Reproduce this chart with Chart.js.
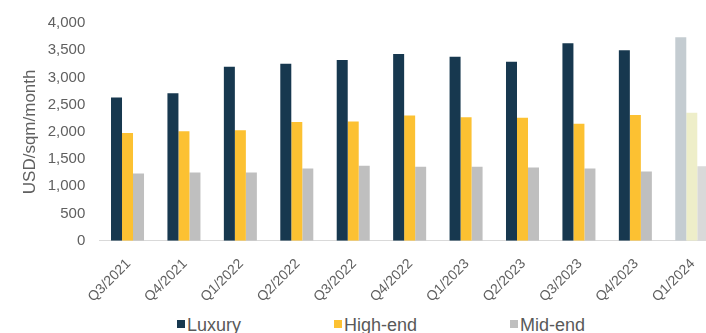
<!DOCTYPE html>
<html>
<head>
<meta charset="utf-8">
<script src="https://cdn.jsdelivr.net/npm/chart.js@4/dist/chart.umd.min.js"></script>
<style>
    html, body { margin: 0; padding: 0; background: #fff; overflow: hidden; width: 706px; height: 333px; }
    #wrap { position: absolute; left: 0; top: 0; width: 722px; height: 312px; }
    #legend { position: absolute; left: 177px; top: 313px; display: flex; gap: 93px; white-space: nowrap;
              font-family: "Liberation Sans", Arial, sans-serif; font-size: 18px; color: #595959; line-height: 24px; }
    #legend span.box { display: inline-block; width: 8px; height: 8px; margin-right: 2px; vertical-align: 3px; }
</style>
</head>
<body>
<div id="wrap"><canvas id="rentChart"></canvas></div>
<div id="legend"></div>
<script>
// Quarters on the x axis
const quarters = ["Q3/2021", "Q4/2021", "Q1/2022", "Q2/2022", "Q3/2022", "Q4/2022",
                  "Q1/2023", "Q2/2023", "Q3/2023", "Q4/2023", "Q1/2024"];

// Rent per segment, USD/sqm/month
const luxury  = [2630, 2710, 3195, 3250, 3320, 3430, 3380, 3290, 3630, 3500, 3740];
const highEnd = [1980, 2010, 2030, 2180, 2190, 2300, 2270, 2260, 2150, 2310, 2350];
const midEnd  = [1235, 1255, 1255, 1325, 1375, 1360, 1360, 1345, 1325, 1270, 1370];

const seriesNames = ["Luxury", "High-end", "Mid-end"];
const yTicks = [0, 500, 1000, 1500, 2000, 2500, 3000, 3500, 4000];

// Normal colour, then the faded one used for the last (forecast) quarter
const colours = [["#17384f", "#c4ccd1"], ["#fcc132", "#eeeec9"], ["#bfbfbf", "#d9d9d9"]];
const textGrey = "#606060";

function barColours(pair) {
    return quarters.map((q, i) => i === quarters.length - 1 ? pair[1] : pair[0]);
}

const ctx = document.getElementById('rentChart').getContext('2d');
new Chart(ctx, {
    type: 'bar',
    data: {
        labels: quarters,
        datasets: [luxury, highEnd, midEnd].map((values, i) => ({
            label: seriesNames[i],
            data: values,
            backgroundColor: barColours(colours[i]),
            borderWidth: 0,
            categoryPercentage: 0.585,
            barPercentage: 1
        }))
    },
    options: {
        responsive: true,
        maintainAspectRatio: false,
        animation: false,
        layout: { padding: { top: 17, left: 0, right: 2, bottom: 0 } },
        plugins: {
            legend: { display: false },
            tooltip: { enabled: false }
        },
        scales: {
            x: {
                grid: { display: false, drawTicks: false },
                border: { display: true, color: '#d9d9d9', width: 1 },
                ticks: {
                    color: textGrey,
                    font: { family: 'Liberation Sans', size: 14 },
                    minRotation: 45,
                    maxRotation: 45,
                    padding: 15,
                    labelOffset: 1
                },
                afterFit: scale => { scale.height = 312 - 240.7; }
            },
            y: {
                min: 0,
                max: 4000,
                grid: { display: false, drawTicks: false },
                border: { display: false },
                afterBuildTicks: scale => { scale.ticks = yTicks.map(v => ({ value: v })); },
                ticks: {
                    color: textGrey,
                    font: { family: 'Liberation Sans', size: 15 },
                    padding: 14,
                    callback: v => v.toLocaleString('en-US')
                },
                title: {
                    display: true,
                    text: 'USD/sqm/month',
                    color: textGrey,
                    font: { family: 'Liberation Sans', size: 17 },
                    padding: { top: 20, bottom: 0 }
                },
                afterFit: scale => { scale.width = 99.3; }
            }
        }
    }
});

// Legend below the chart, built from the series names
const legend = document.getElementById('legend');
seriesNames.forEach((name, i) => {
    const item = document.createElement('div');
    item.innerHTML = `<span class="box" style="background:${colours[i][0]}"></span>${name}`;
    legend.appendChild(item);
});
</script>
</body>
</html>
